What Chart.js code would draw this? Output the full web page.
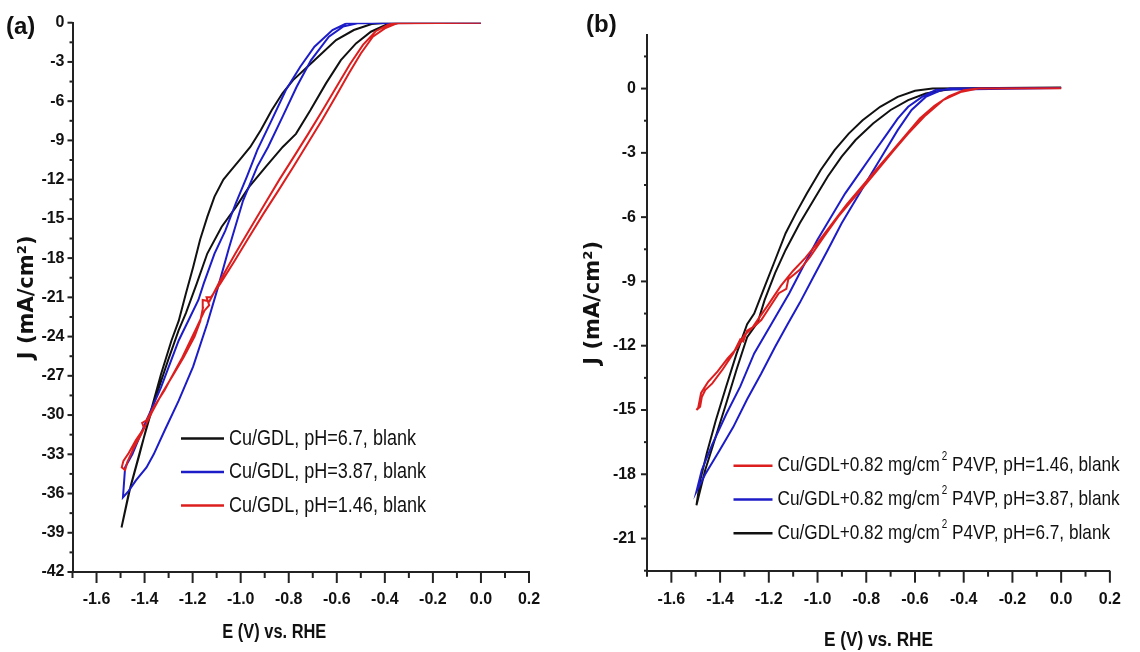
<!DOCTYPE html>
<html>
<head>
<meta charset="utf-8">
<script src="https://cdn.jsdelivr.net/npm/chart.js@4.4.1/dist/chart.umd.min.js"></script>
<style>
  html, body { margin: 0; padding: 0; background: #fff; }
  #wrap { position: relative; width: 1140px; height: 652px; }
  #wrap canvas { position: absolute; top: 0; }
</style>
</head>
<body>
<div id="wrap">
  <canvas id="chartA" width="570" height="652" style="left:0"></canvas>
  <canvas id="chartB" width="570" height="652" style="left:570px"></canvas>
</div>
<script>
// ---- panel (a): Cu/GDL, blank -------------------------------------------
const aBlackE = [0.0, -0.395, -0.455, -0.529, -0.603, -0.663, -0.722, -0.782, -0.826, -0.871, -0.916, -0.960, -1.005, -1.050, -1.072, -1.109, -1.139, -1.169, -1.198, -1.228, -1.258, -1.288, -1.332, -1.377, -1.421, -1.466, -1.496,
                 -1.459, -1.414, -1.362, -1.302, -1.258, -1.228, -1.183, -1.139, -1.079, -1.020, -0.965, -0.895, -0.825, -0.770, -0.710, -0.645, -0.583, -0.520, -0.458, -0.397, -0.336, 0.0]
const aBlackJ = [0, 0, -0.1, -0.56, -1.33, -2.35, -3.37, -4.39, -5.4, -6.7, -8.2, -9.5, -10.5, -11.5, -12.0, -13.3, -14.85, -16.6, -18.7, -20.7, -22.8, -24.3, -26.9, -29.9, -33.0, -36.0, -38.6,
                 -35.5, -32.45, -29.1, -25.8, -23.5, -22.2, -19.95, -17.65, -15.6, -14.1, -12.55, -11.0, -9.5, -8.5, -6.7, -4.64, -2.86, -1.58, -0.69, -0.18, 0, 0]

const aBlueE = [0.0, -0.514, -0.574, -0.633, -0.707, -0.767, -0.826, -0.886, -0.931, -0.990, -1.050, -1.094, -1.139, -1.198, -1.258, -1.317, -1.362, -1.392, -1.436, -1.466, -1.490,
                -1.481, -1.451, -1.392, -1.332, -1.258, -1.213, -1.176, -1.154, -1.109, -1.064, -1.020, -0.975, -0.931, -0.871, -0.812, -0.752, -0.693, -0.618, -0.559, 0.0]
const aBlueJ = [0, -0.05, -0.3, -1.07, -2.86, -4.9, -7.2, -9.5, -11.0, -13.6, -17.3, -20.2, -23.0, -26.3, -28.9, -31.2, -33.0, -34.0, -35.0, -35.8, -36.3,
                -34.0, -33.0, -30.4, -27.9, -24.3, -22.6, -21.2, -19.95, -17.65, -15.9, -13.8, -11.8, -9.74, -7.45, -5.15, -3.37, -1.84, -0.56, -0.05, 0]

const aRedE = [0.0, -0.350, -0.400, -0.450, -0.500, -0.550, -0.605, -0.662, -0.720, -0.780, -0.842, -0.905, -0.972, -1.025, -1.085, -1.124, -1.142, -1.131, -1.150, -1.183, -1.243, -1.288, -1.317, -1.362, -1.392, -1.410, -1.402, -1.436, -1.466, -1.488, -1.495, -1.481,
               -1.472, -1.447, -1.412, -1.370, -1.326, -1.280, -1.238, -1.192, -1.168, -1.157, -1.158, -1.130, -1.082, -1.024, -0.966, -0.901, -0.839, -0.777, -0.719, -0.659, -0.601, -0.546, -0.491, -0.438, -0.386, -0.345, 0.0]
const aRedJ = [0, -0.05, -0.43, -1.07, -2.35, -3.88, -5.66, -7.45, -9.2, -11.0, -12.8, -14.6, -16.6, -18.2, -19.95, -21.0, -21.0, -21.6, -22.0, -23.3, -25.6, -27.1, -28.1, -29.4, -30.4, -30.6, -31.0, -31.9, -32.9, -33.5, -34.0, -34.2,
               -33.6, -32.6, -31.4, -29.8, -28.3, -26.9, -25.6, -24.0, -22.8, -21.8, -21.2, -21.3, -19.6, -17.7, -15.9, -13.9, -12.0, -10.2, -8.5, -6.7, -4.9, -3.2, -1.7, -0.65, -0.15, 0, 0]

const aLegend = ["Cu/GDL, pH=6.7, blank", "Cu/GDL, pH=3.87, blank", "Cu/GDL, pH=1.46, blank"]

// ---- panel (b): Cu/GDL + 0.82 mg/cm2 P4VP, blank -----------------------
const bBlackE = [0.0, -0.427, -0.485, -0.556, -0.628, -0.700, -0.772, -0.844, -0.901, -0.958, -1.016, -1.073, -1.131, -1.174, -1.217, -1.245, -1.289, -1.332, -1.375, -1.418, -1.461, -1.497,
                 -1.482, -1.454, -1.418, -1.375, -1.332, -1.289, -1.260, -1.217, -1.174, -1.131, -1.088, -1.044, -0.987, -0.930, -0.872, -0.815, -0.743, -0.671, -0.600, -0.528, 0.0]
const bBlackJ = [0.05, 0, -0.08, -0.23, -0.54, -1.0, -1.63, -2.4, -3.18, -4.1, -5.2, -6.29, -7.53, -8.6, -9.86, -10.9, -11.6, -13.1, -14.7, -16.25, -17.8, -19.45,
                 -18.3, -17.0, -15.5, -13.9, -12.36, -11.0, -10.5, -9.24, -8.0, -6.75, -5.8, -4.9, -3.8, -2.87, -2.1, -1.48, -0.85, -0.39, -0.1, 0, 0.05]

const bBlueE = [0.0, -0.513, -0.571, -0.628, -0.671, -0.714, -0.772, -0.829, -0.887, -0.944, -1.001, -1.059, -1.116, -1.190, -1.260, -1.317, -1.375, -1.432, -1.475, -1.497,
                -1.461, -1.403, -1.346, -1.289, -1.231, -1.174, -1.123, -1.073, -1.016, -0.958, -0.901, -0.844, -0.786, -0.729, -0.671, -0.614, -0.556, -0.499, -0.456, 0.0]
const bBlueJ = [0.03, -0.05, -0.39, -0.85, -1.4, -2.1, -3.03, -3.96, -4.9, -5.98, -7.07, -8.3, -9.55, -11.0, -12.36, -13.9, -15.2, -16.6, -17.8, -18.8,
                -18.0, -16.9, -15.8, -14.5, -13.3, -12.05, -11.0, -10.0, -8.77, -7.53, -6.29, -5.2, -4.1, -3.03, -1.94, -1.0, -0.39, -0.1, 0, 0.03]

const bRedE = [0.0, -0.341, -0.413, -0.485, -0.556, -0.628, -0.686, -0.743, -0.800, -0.858, -0.915, -0.973, -1.030, -1.073, -1.120, -1.128, -1.159, -1.202, -1.231, -1.260, -1.289, -1.305, -1.317, -1.346, -1.389, -1.432, -1.461, -1.475, -1.482, -1.497,
               -1.490, -1.478, -1.450, -1.410, -1.370, -1.330, -1.300, -1.270, -1.240, -1.200, -1.150, -1.100, -1.050, -1.000, -0.940, -0.880, -0.820, -0.760, -0.700, -0.640, -0.580, -0.520, -0.460, -0.400, -0.340, 0.0]
const bRedJ = [0.02, 0, -0.16, -0.54, -1.24, -2.1, -2.87, -3.65, -4.43, -5.2, -5.98, -6.9, -7.84, -8.46, -8.9, -9.35, -9.55, -10.3, -10.8, -11.1, -11.3, -11.8, -11.7, -12.36, -13.1, -13.76, -14.07, -14.4, -14.85, -15.0,
               -14.9, -14.2, -13.7, -13.2, -12.6, -12.1, -11.5, -11.2, -10.7, -10.05, -9.2, -8.5, -7.9, -7.2, -6.3, -5.4, -4.6, -3.8, -3.0, -2.2, -1.4, -0.8, -0.35, -0.08, 0, 0.02]

const bLegend = [["Cu/GDL+0.82 mg/cm", "2", " P4VP, pH=1.46, blank"],
                 ["Cu/GDL+0.82 mg/cm", "2", " P4VP, pH=3.87, blank"],
                 ["Cu/GDL+0.82 mg/cm", "2", " P4VP, pH=6.7, blank"]]

const xTicks = [-1.6, -1.4, -1.2, -1.0, -0.8, -0.6, -0.4, -0.2, 0.0, 0.2]

// ------------------------------------------------------------------------
const BLACK = '#111111'
const BLUE = '#1c1cc8'
const RED = '#dc1e1e'
const SANS = "'Liberation Sans', Arial, sans-serif"
const NARROW = 0.82   // Arial Narrow is roughly Arial squeezed to 82 %

function pts(E, J) {
    return E.map((e, i) => ({x: e, y: J[i]}))
}

function line(E, J, color) {
    return {data: pts(E, J), borderColor: color, borderWidth: 2, pointRadius: 0, showLine: true, tension: 0, fill: false}
}

// condensed text: squeeze horizontally, returns drawn width
function narrowText(ctx, text, x, y, font, align) {
    ctx.save()
    ctx.font = font
    const w = ctx.measureText(text).width * NARROW
    const x0 = align === 'center' ? x - w / 2 : x
    ctx.translate(x0, y)
    ctx.scale(NARROW, 1)
    ctx.textAlign = 'left'
    ctx.fillText(text, 0, 0)
    ctx.restore()
    return w
}

// tick marks, titles, legend and panel letter
const decor = {
    id: 'decor',
    afterDraw(chart, args, o) {
        const ctx = chart.ctx
        const xs = chart.scales.x, ys = chart.scales.y
        const area = chart.chartArea
        ctx.save()
        ctx.strokeStyle = '#222'
        ctx.lineWidth = 2
        // x ticks every 0.1, long on even tenths
        for (let k = -17; k <= 2; k++) {
            const px = xs.getPixelForValue(k / 10)
            const len = k % 2 === 0 ? o.xMajor : o.xMinor
            ctx.beginPath(); ctx.moveTo(px, area.bottom); ctx.lineTo(px, area.bottom + len); ctx.stroke()
        }
        // y ticks every 1.5, long on multiples of 3
        for (let k = Math.ceil(ys.min / 1.5); k <= Math.floor(ys.max / 1.5); k++) {
            const py = ys.getPixelForValue(k * 1.5)
            const len = k % 2 === 0 ? o.yMajor : o.yMinor
            ctx.beginPath(); ctx.moveTo(area.left, py); ctx.lineTo(area.left - len, py); ctx.stroke()
        }
        ctx.fillStyle = '#111'
        ctx.textBaseline = 'middle'
        // panel letter
        ctx.font = "bold 24px " + SANS
        ctx.textAlign = 'left'
        ctx.fillText(o.letter, o.letterX, o.letterY)
        // x title
        narrowText(ctx, 'E (V) vs. RHE', xs.getPixelForValue(o.xTitleE), o.xTitleY, "bold " + o.xTitleSize + "px " + SANS, 'center')
        // y title
        ctx.save()
        ctx.translate(o.yTitleX, (area.top + area.bottom) / 2)
        ctx.rotate(-Math.PI / 2)
        ctx.font = "bold 21px 'DejaVu Sans', sans-serif"
        ctx.textAlign = 'center'
        ctx.fillText('J (mA/cm\u00B2)', 0, 0)
        ctx.restore()
        // legend
        o.legend.forEach((item, i) => {
            const y = o.legY + i * o.legGap
            ctx.strokeStyle = item.color
            ctx.lineWidth = 2.5
            ctx.beginPath(); ctx.moveTo(o.legX, y); ctx.lineTo(o.legX + o.legLen, y); ctx.stroke()
            let x = o.legX + o.legLen + 5
            const parts = Array.isArray(item.text) ? item.text : [item.text]
            parts.forEach((p, j) => {
                const sup = parts.length === 3 && j === 1
                if (sup) {
                    x += 2 + narrowText(ctx, p, x + 2, y - 9, "12px " + SANS, 'left')
                } else {
                    x += narrowText(ctx, p, x, y, o.legSize + "px " + SANS, 'left')
                }
            })
        })
        ctx.restore()
    }
}
Chart.register(decor)

function makeOptions(yMin, yMax, yWidth, xHeight, pad, yTickPad, xTickPad, deco) {
    return {
        responsive: false,
        devicePixelRatio: 1,
        animation: false,
        layout: {padding: pad},
        plugins: {legend: {display: false}, tooltip: {enabled: false}, decor: deco},
        scales: {
            x: {
                type: 'linear', min: -1.7, max: 0.2,
                grid: {display: false, drawTicks: false},
                border: {display: true, width: 2, color: '#222'},
                afterBuildTicks: s => { s.ticks = xTicks.map(v => ({value: v})) },
                afterFit: s => { s.height = xHeight },
                ticks: {padding: xTickPad, color: '#111', maxRotation: 0, autoSkip: false,
                        font: {family: SANS, size: 16, weight: 'bold'},
                        callback: v => v.toFixed(1)}
            },
            y: {
                type: 'linear', min: yMin, max: yMax,
                grid: {display: false, drawTicks: false},
                border: {display: true, width: 2, color: '#222'},
                afterBuildTicks: s => {
                    const t = []
                    for (let v = Math.ceil(yMin / 3) * 3; v <= yMax; v += 3) t.push({value: v})
                    s.ticks = t
                },
                afterFit: s => { s.width = yWidth },
                ticks: {padding: yTickPad, color: '#111', autoSkip: false,
                        font: {family: SANS, size: 16, weight: 'bold'},
                        callback: v => String(Math.round(v))}
            }
        }
    }
}

new Chart(document.getElementById('chartA'), {
    type: 'scatter',
    data: {datasets: [line(aRedE, aRedJ, RED), line(aBlueE, aBlueJ, BLUE), line(aBlackE, aBlackJ, BLACK)]},
    options: makeOptions(-42, 0, 72.5, 80, {left: 0, right: 41, top: 22.7, bottom: 0}, 8, 18, {
        xMajor: 11, xMinor: 6, yMajor: 5, yMinor: 3,
        letter: '(a)', letterX: 6, letterY: 27,
        xTitleE: -0.86, xTitleY: 632, xTitleSize: 20, yTitleX: 28,
        legX: 181, legY: 438.5, legGap: 33.5, legLen: 43, legSize: 22,
        legend: [{color: BLACK, text: aLegend[0]}, {color: BLUE, text: aLegend[1]}, {color: RED, text: aLegend[2]}]
    })
})

new Chart(document.getElementById('chartB'), {
    type: 'scatter',
    data: {datasets: [line(bRedE, bRedJ, RED), line(bBlueE, bBlueJ, BLUE), line(bBlackE, bBlackJ, BLACK)]},
    options: makeOptions(-22.5, 2.5, 77, 81.3, {left: 0, right: 11, top: 35, bottom: 0}, 11, 19, {
        xMajor: 12, xMinor: 6, yMajor: 6, yMinor: 3,
        letter: '(b)', letterX: 16, letterY: 25,
        xTitleE: -0.75, xTitleY: 640, xTitleSize: 21, yTitleX: 24,
        legX: 163.5, legY: 465.7, legGap: 33.8, legLen: 39, legSize: 21,
        legend: [{color: RED, text: bLegend[0]}, {color: BLUE, text: bLegend[1]}, {color: BLACK, text: bLegend[2]}]
    })
})
</script>
</body>
</html>
